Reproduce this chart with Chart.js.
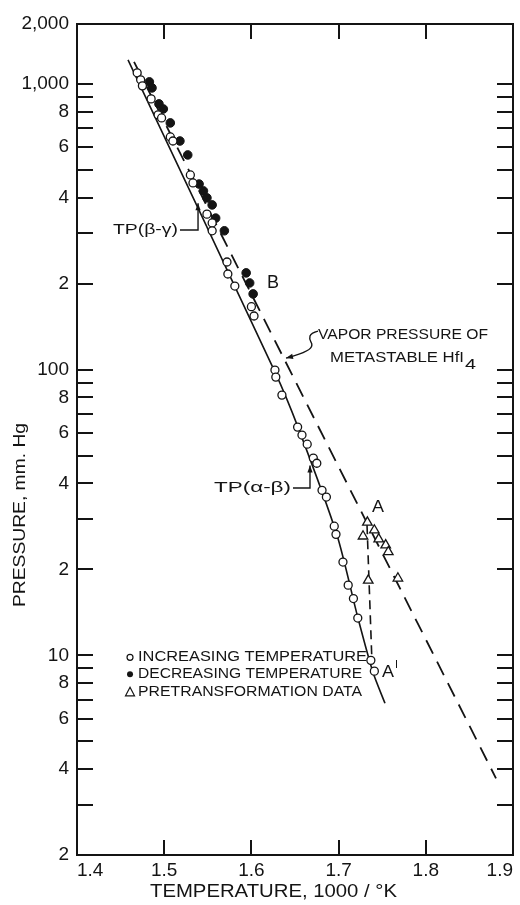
<!DOCTYPE html>
<html lang="en">
<head>
  <meta charset="UTF-8" />
  <title>HfI4 Vapor Pressure</title>
  <script src="https://cdn.jsdelivr.net/npm/chart.js"></script>
  <style>
    body { margin: 0; background: #fff; }
    canvas { display: block; }
  </style>
</head>
<body>

<canvas id="vpChart" width="520" height="905"></canvas>

<script>
  // x = 1000/T (1/K), y = pressure (mm Hg)
  const risingX = [1.469, 1.473, 1.475, 1.485, 1.493, 1.497, 1.507, 1.510, 1.530, 1.533, 1.549, 1.555,
                   1.555, 1.572, 1.573, 1.581, 1.600, 1.603, 1.627, 1.628, 1.635, 1.653, 1.658, 1.664,
                   1.671, 1.675, 1.681, 1.686, 1.695, 1.697, 1.705, 1.711, 1.717, 1.722, 1.737, 1.741];
  const risingP = [1093, 1033, 984, 886, 779, 760, 652, 631, 480, 450, 350, 326,
                   306, 238, 216, 196, 166, 154, 99.6, 94.1, 81.4, 62.9, 59.0, 54.8,
                   49.0, 47.0, 37.8, 35.8, 28.3, 26.5, 21.2, 17.6, 15.8, 13.5, 9.6, 8.8];

  const fallingX = [1.483, 1.486, 1.494, 1.499, 1.507, 1.518, 1.527, 1.540, 1.545, 1.549, 1.555, 1.559,
                    1.569, 1.594, 1.598, 1.602];
  const fallingP = [1016, 968, 851, 817, 730, 631, 564, 446, 422, 399, 377, 339,
                    306, 218, 201, 184];

  const pretransX = [1.733, 1.728, 1.741, 1.746, 1.754, 1.757, 1.734, 1.768];
  const pretransP = [29.2, 26.1, 27.4, 25.5, 24.3, 23.0, 18.3, 18.6];

  // fitted curves
  const stableX = [1.4585, 1.6271, 1.6534, 1.6982, 1.7222, 1.7394, 1.7532];
  const stableP = [1213, 98.0, 62.9, 26.3, 13.5, 8.72, 6.79];
  const metaX = [1.4654, 1.8805];
  const metaP = [1194, 3.71];
  const dropX = [1.7326, 1.7383];
  const dropP = [28.5, 9.4];

  const xTicks = [1.4, 1.5, 1.6, 1.7, 1.8, 1.9];
  const yTicks = [2, 3, 4, 5, 6, 7, 8, 9, 10, 20, 30, 40, 50, 60, 70, 80, 90,
                  100, 200, 300, 400, 500, 600, 700, 800, 900, 1000];
  const yLabels = new Map([[2, '2'], [4, '4'], [6, '6'], [8, '8'], [10, '10'],
                           [20, '2'], [40, '4'], [60, '6'], [80, '8'], [100, '100'],
                           [200, '2'], [400, '4'], [600, '6'], [800, '8'], [1000, '1,000']]);
  const yTop = 1620;          // upper edge of the sheet, printed as 2,000
  const yTopLabel = '2,000';

  const FONT = '"Liberation Sans", Arial, sans-serif';
  const INK = '#141414';

  const pts = (xs, ys) => xs.map((x, i) => ({ x, y: ys[i] }));

  // text placed in data units
  const notes = [
    { text: 'TP(β-γ)', x: 1.5158, y: 308, w: 65, size: 15, align: 'right' },
    { text: 'TP(α-β)', x: 1.6454, y: 38.5, w: 77, size: 15, align: 'right' },
    { text: 'B', x: 1.6248, y: 201, w: 12, size: 18, align: 'center' },
    { text: 'VAPOR PRESSURE OF', x: 1.6764, y: 132, w: 170, size: 15, align: 'left' },
    { text: 'METASTABLE HfI', x: 1.6901, y: 109.7, w: 134, size: 15, align: 'left', sub: '4' },
    { text: 'A', x: 1.7452, y: 33.0, w: 12, size: 16, align: 'center' },
    { text: 'A', x: 1.7567, y: 8.72, w: 12, size: 16, align: 'center', sup: 'I' }
  ];

  const leaders = [
    { path: [[1.5181, 308], [1.5388, 308], [1.5388, 362]], tip: [1.5388, 382] },
    { path: [[1.6477, 38.5], [1.6672, 38.5], [1.6672, 43.7]], tip: [1.6672, 46.2] },
    { path: [[1.6764, 136.4], [1.6683, 134.3], [1.6661, 127.9], [1.6706, 121.8], [1.6649, 116.1], [1.6443, 110.6]],
      tip: [1.6397, 109.7], curved: true }
  ];

  const legendRows = [
    { text: 'INCREASING TEMPERATURE', mark: 'open', y: 9.84, w: 229 },
    { text: 'DECREASING TEMPERATURE', mark: 'filled', y: 8.58, w: 224 },
    { text: 'PRETRANSFORMATION DATA', mark: 'triangle', y: 7.42, w: 224 }
  ];
  const legendMarkX = 1.4608;
  const legendTextX = 1.4700;

  function fitText(ctx, text, x, y, w, size, align) {
    ctx.font = size + 'px ' + FONT;
    const m = ctx.measureText(text).width;
    const k = w / m;
    ctx.save();
    ctx.translate(x, y);
    ctx.scale(k, 1);
    ctx.textBaseline = 'middle';
    ctx.textAlign = 'left';
    const dx = align === 'right' ? -m : (align === 'center' ? -m / 2 : 0);
    ctx.fillText(text, dx, 0);
    ctx.restore();
    return align === 'right' ? x : (align === 'center' ? x + w / 2 : x + w);
  }

  function arrowHead(ctx, fromX, fromY, toX, toY) {
    const a = Math.atan2(toY - fromY, toX - fromX);
    const len = 7, half = 2.6;
    ctx.beginPath();
    ctx.moveTo(toX, toY);
    ctx.lineTo(toX - len * Math.cos(a) + half * Math.sin(a), toY - len * Math.sin(a) - half * Math.cos(a));
    ctx.lineTo(toX - len * Math.cos(a) - half * Math.sin(a), toY - len * Math.sin(a) + half * Math.cos(a));
    ctx.closePath();
    ctx.fill();
  }

  const framePlugin = {
    id: 'frame',
    afterDraw(chart) {
      const { ctx, chartArea: a, scales: { x, y } } = chart;
      ctx.save();
      ctx.strokeStyle = INK;
      ctx.fillStyle = INK;
      ctx.lineWidth = 2;
      ctx.strokeRect(a.left, a.top, a.right - a.left, a.bottom - a.top);

      // tick marks pointing into the plot
      ctx.beginPath();
      yTicks.forEach(v => {
        const py = Math.round(y.getPixelForValue(v));
        ctx.moveTo(a.left, py); ctx.lineTo(a.left + 16, py);
        ctx.moveTo(a.right, py); ctx.lineTo(a.right - 16, py);
      });
      xTicks.slice(1, -1).forEach(v => {
        const px = Math.round(x.getPixelForValue(v));
        ctx.moveTo(px, a.bottom); ctx.lineTo(px, a.bottom - 15);
        ctx.moveTo(px, a.top); ctx.lineTo(px, a.top + 15);
      });
      ctx.stroke();

      // axis titles
      fitText(ctx, 'TEMPERATURE, 1000 / °K', 150, 892, 247, 19, 'left');
      ctx.save();
      ctx.translate(20, 515);
      ctx.rotate(-Math.PI / 2);
      fitText(ctx, 'PRESSURE, mm. Hg', 0, 0, 184, 17, 'center');
      ctx.restore();

      // labels on the plot
      notes.forEach(n => {
        const px = x.getPixelForValue(n.x), py = y.getPixelForValue(n.y);
        const end = fitText(ctx, n.text, px, py, n.w, n.size, n.align);
        if (n.sub) fitText(ctx, n.sub, end + 1, py + 7, 11, n.size, 'left');
        if (n.sup) fitText(ctx, n.sup, end + 1, py - 7, 3, 11, 'left');
      });

      // leader lines
      ctx.lineWidth = 1.4;
      leaders.forEach(l => {
        const p = l.path.map(([vx, vy]) => [x.getPixelForValue(vx), y.getPixelForValue(vy)]);
        ctx.beginPath();
        ctx.moveTo(p[0][0], p[0][1]);
        if (l.curved) {
          for (let i = 1; i < p.length - 1; i++) {
            const mx = (p[i][0] + p[i + 1][0]) / 2, my = (p[i][1] + p[i + 1][1]) / 2;
            ctx.quadraticCurveTo(p[i][0], p[i][1], mx, my);
          }
        }
        p.slice(l.curved ? -1 : 1).forEach(q => ctx.lineTo(q[0], q[1]));
        const last = p[p.length - 1];
        const tx = x.getPixelForValue(l.tip[0]), ty = y.getPixelForValue(l.tip[1]);
        ctx.lineTo(tx, ty);
        ctx.stroke();
        arrowHead(ctx, last[0], last[1], tx, ty);
      });

      // key
      const mx = x.getPixelForValue(legendMarkX);
      const tx = x.getPixelForValue(legendTextX);
      legendRows.forEach(r => {
        const py = y.getPixelForValue(r.y);
        ctx.lineWidth = 1.2;
        ctx.beginPath();
        if (r.mark === 'triangle') {
          ctx.moveTo(mx, py - 5); ctx.lineTo(mx + 4.5, py + 3.5); ctx.lineTo(mx - 4.5, py + 3.5); ctx.closePath();
          ctx.stroke();
        } else {
          ctx.arc(mx, py, 3, 0, Math.PI * 2);
          if (r.mark === 'filled') ctx.fill(); else ctx.stroke();
        }
        fitText(ctx, r.text, tx, py, r.w, 14, 'left');
      });
      ctx.restore();
    }
  };

  new Chart(document.getElementById('vpChart'), {
    type: 'scatter',
    data: {
      datasets: [
        {
          label: 'Pretransformation data',
          data: pts(pretransX, pretransP),
          pointStyle: 'triangle', pointRadius: 5.5,
          backgroundColor: '#fff', borderColor: INK, borderWidth: 1.3
        },
        {
          label: 'Increasing temperature',
          data: pts(risingX, risingP),
          pointStyle: 'circle', pointRadius: 4,
          backgroundColor: '#fff', borderColor: INK, borderWidth: 1.3
        },
        {
          label: 'Decreasing temperature',
          data: pts(fallingX, fallingP),
          pointStyle: 'circle', pointRadius: 4.3,
          backgroundColor: INK, borderColor: INK, borderWidth: 1
        },
        {
          label: 'TP curve',
          data: pts(stableX, stableP),
          showLine: true, pointRadius: 0, tension: 0.25,
          borderColor: INK, borderWidth: 1.6
        },
        {
          label: 'Metastable HfI4',
          data: pts(metaX, metaP),
          showLine: true, pointRadius: 0,
          borderColor: INK, borderWidth: 1.8, borderDash: [15, 9]
        },
        {
          label: 'Pretransformation drop',
          data: pts(dropX, dropP),
          showLine: true, pointRadius: 0,
          borderColor: INK, borderWidth: 1.6, borderDash: [9, 6]
        }
      ]
    },
    options: {
      responsive: false,
      animation: false,
      layout: { padding: { top: 24, right: 7, bottom: 0, left: 0 } },
      plugins: { legend: { display: false }, tooltip: { enabled: false } },
      scales: {
        x: {
          type: 'linear', min: 1.4, max: 1.9,
          grid: { display: false, drawTicks: false },
          border: { display: false },
          afterBuildTicks: s => { s.ticks = xTicks.map(v => ({ value: v })); },
          afterFit: s => { s.height = 50; s.paddingLeft = 0; s.paddingRight = 0; },
          ticks: {
            autoSkip: false, maxRotation: 0, padding: 4, color: INK, align: 'inner',
            font: { family: FONT, size: 19 },
            callback: v => Number(v).toFixed(1)
          }
        },
        y: {
          type: 'logarithmic', min: 2, max: yTop,
          grid: { display: false, drawTicks: false },
          border: { display: false },
          afterBuildTicks: s => { s.ticks = yTicks.concat([yTop]).map(v => ({ value: v })); },
          afterFit: s => { s.width = 77; },
          ticks: {
            autoSkip: false, padding: 8, color: INK,
            font: { family: FONT, size: 19 },
            callback: v => v === yTop ? yTopLabel : (yLabels.get(v) || '')
          }
        }
      }
    },
    plugins: [framePlugin]
  });
</script>

</body>
</html>
